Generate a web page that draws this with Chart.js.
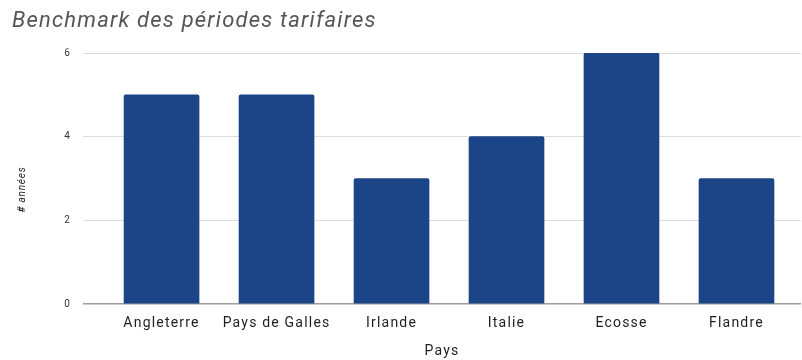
<!DOCTYPE html>
<html>
<head>
<meta charset="utf-8">
<script src="https://cdn.jsdelivr.net/npm/chart.js@4"></script>
<style>
html,body{margin:0;padding:0;background:#fff;}
#wrap{width:802px;height:360px;}
</style>
</head>
<body>
<div id="wrap"><canvas id="c" width="802" height="360"></canvas></div>
<script>
const titleText = "Benchmark des périodes tarifaires";
const categories = ["Angleterre", "Pays de Galles", "Irlande", "Italie", "Ecosse", "Flandre"];
const values = [5, 5, 3, 4, 6, 3];
const yTicks = [0, 2, 4, 6];
const xTitle = "Pays";
const yTitle = "# années";

const points = categories.map((c, i) => ({x: i, y: values[i]}));

const spacing = {
  id: 'spacing',
  beforeUpdate(chart) { chart.ctx.letterSpacing = '1.2px'; },
  beforeDraw(chart) { chart.ctx.letterSpacing = '1.2px'; }
};

const yTitlePlugin = {
  id: 'yTitlePlugin',
  afterDraw(chart) {
    const ctx = chart.ctx;
    const a = chart.chartArea;
    ctx.save();
    ctx.letterSpacing = '0.8px';
    ctx.translate(22, (a.top + a.bottom) / 2 + 11);
    ctx.rotate(-Math.PI / 2);
    ctx.font = 'italic 10px Roboto';
    ctx.fillStyle = '#222222';
    ctx.textAlign = 'center';
    ctx.textBaseline = 'middle';
    ctx.fillText(yTitle, 0, 0);
    ctx.restore();
  }
};

new Chart(document.getElementById('c'), {
  type: 'bar',
  plugins: [spacing, yTitlePlugin],
  data: {
    datasets: [{
      data: points,
      backgroundColor: '#1c4587',
      borderRadius: 2,
      borderSkipped: 'bottom',
      barThickness: 75
    }]
  },
  options: {
    responsive: false,
    animation: false,
    layout: {padding: {left: 12, right: 1, top: 0, bottom: 0}},
    plugins: {
      legend: {display: false},
      tooltip: {enabled: false},
      title: {
        display: true,
        text: titleText,
        align: 'start',
        color: '#555555',
        font: {family: 'Roboto', size: 22, style: 'italic', weight: 'normal', lineHeight: 1.0},
        padding: {top: 10, bottom: 21}
      }
    },
    scales: {
      x: {
        type: 'linear',
        offset: false,
        min: -0.683,
        max: 5.561,
        grid: {display: false},
        border: {display: false},
        afterBuildTicks: (s) => { s.ticks = categories.map((c, i) => ({value: i})); },
        afterFit: (s) => { s.height = 56; },
        ticks: {
          autoSkip: false,
          maxRotation: 0,
          padding: 3,
          color: '#1e1e1e',
          font: {family: 'Roboto', size: 14},
          callback: (v) => categories[v] ?? ''
        },
        title: {
          display: true,
          text: xTitle,
          color: '#1e1e1e',
          font: {family: 'Roboto', size: 14},
          padding: 0
        }
      },
      y: {
        min: 0,
        max: 6,
        afterBuildTicks: (s) => { s.ticks = yTicks.map(v => ({value: v})); },
        afterFit: (s) => { s.width = 71; },
        border: {display: false},
        grid: {
          drawTicks: false,
          color: (ctx) => ctx.tick && ctx.tick.value === 0 ? '#9e9e9e' : '#dddddd',
          lineWidth: (ctx) => ctx.tick && ctx.tick.value === 0 ? 1.5 : 1
        },
        ticks: {
          padding: 12,
          color: '#333333',
          font: {family: 'Roboto', size: 10}
        },
        title: {display: false}
      }
    }
  }
});
</script>
</body>
</html>
